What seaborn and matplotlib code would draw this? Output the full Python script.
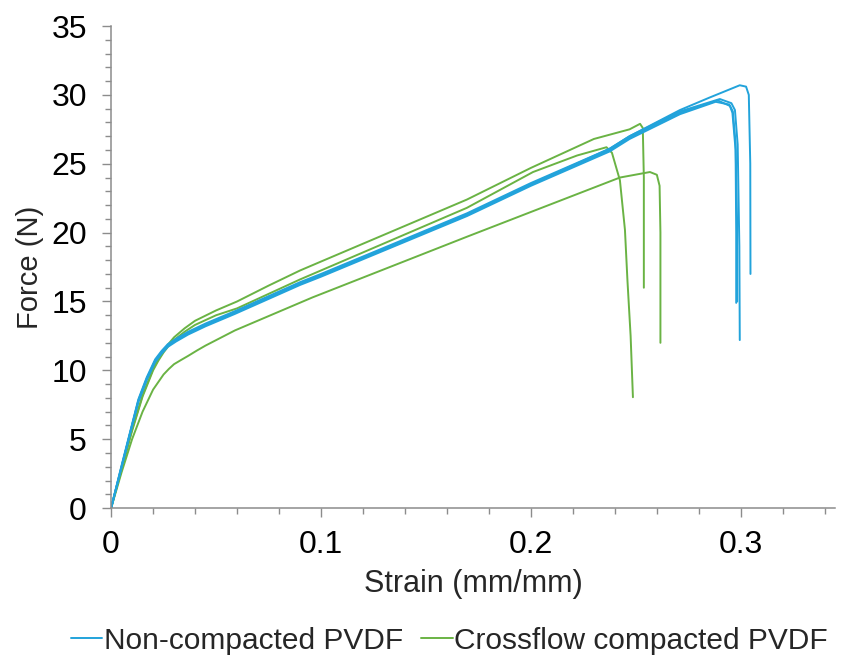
import numpy as np
import pandas as pd
import matplotlib
matplotlib.use("Agg")
import matplotlib.pyplot as plt
from matplotlib.lines import Line2D
from matplotlib.ticker import MultipleLocator, FuncFormatter
import seaborn as sns

# strain (mm/mm) / force (N)
b1_strain = [0, 0.005, 0.010, 0.013, 0.017, 0.021, 0.024, 0.027, 0.031, 0.0367, 0.045, 0.059, 0.090,
             0.100, 0.1695, 0.200, 0.2376, 0.247, 0.271, 0.289, 0.2948, 0.296, 0.2975, 0.2978, 0.2978]
b1_force = [0, 3.0, 6.0, 7.8, 9.4, 10.7, 11.3, 11.8, 12.2, 12.7, 13.3, 14.2, 16.3,
            16.9, 21.3, 23.5, 26.0, 26.9, 28.7, 29.6, 29.2, 28.7, 26.0, 20.0, 14.9]
b2_strain = [0, 0.005, 0.010, 0.013, 0.017, 0.021, 0.024, 0.027, 0.031, 0.0367, 0.045, 0.059, 0.090,
             0.100, 0.1695, 0.200, 0.2376, 0.247, 0.271, 0.288, 0.2945, 0.2962, 0.2975, 0.2982, 0.2983]
b2_force = [0, 3.0, 6.0, 7.7, 9.3, 10.6, 11.2, 11.7, 12.1, 12.6, 13.2, 14.1, 16.2,
            16.8, 21.2, 23.4, 25.9, 26.8, 28.6, 29.5, 29.3, 28.8, 26.5, 21.0, 15.0]
b3_strain = [0, 0.005, 0.010, 0.013, 0.017, 0.021, 0.024, 0.027, 0.031, 0.0367, 0.045, 0.059, 0.090,
             0.100, 0.1695, 0.200, 0.2376, 0.247, 0.271, 0.290, 0.2955, 0.2972, 0.2985, 0.2993, 0.2995]
b3_force = [0, 3.1, 6.1, 7.9, 9.5, 10.8, 11.4, 11.9, 12.3, 12.8, 13.4, 14.3, 16.4,
            17.0, 21.4, 23.6, 26.1, 27.0, 28.8, 29.7, 29.4, 28.9, 26.4, 19.0, 12.2]
b4_strain = [0, 0.005, 0.010, 0.013, 0.017, 0.021, 0.024, 0.027, 0.031, 0.0367, 0.045, 0.059, 0.090,
             0.100, 0.1695, 0.200, 0.2376, 0.247, 0.271, 0.285, 0.2995, 0.3025, 0.3038, 0.3045, 0.3046]
b4_force = [0, 3.0, 6.0, 7.8, 9.4, 10.7, 11.3, 11.8, 12.2, 12.7, 13.3, 14.2, 16.3,
            16.9, 21.3, 23.5, 26.1, 27.0, 28.9, 29.8, 30.7, 30.6, 30.0, 25.0, 17.0]

g1_strain = [0, 0.005, 0.010, 0.015, 0.020, 0.0225, 0.025, 0.0275, 0.030, 0.035, 0.040, 0.050, 0.060,
             0.075, 0.090, 0.100, 0.1695, 0.200, 0.230, 0.247, 0.252, 0.2533, 0.2538, 0.2538]
g1_force = [0, 2.9, 5.7, 8.2, 10.1, 10.8, 11.4, 11.95, 12.4, 13.05, 13.6, 14.35, 15.0,
            16.15, 17.25, 17.9, 22.4, 24.7, 26.8, 27.5, 27.9, 27.6, 24.0, 16.0]
g2_strain = [0, 0.005, 0.010, 0.015, 0.020, 0.0225, 0.025, 0.0275, 0.030, 0.035, 0.040, 0.050, 0.060,
             0.090, 0.1695, 0.201, 0.222, 0.236, 0.2386, 0.2424, 0.2448, 0.246, 0.2475, 0.2486]
g2_force = [0, 2.8, 5.6, 8.1, 10.0, 10.7, 11.3, 11.8, 12.2, 12.8, 13.3, 14.0, 14.5,
            16.6, 21.8, 24.4, 25.6, 26.2, 25.8, 23.8, 20.2, 16.5, 12.5, 8.05]
g3_strain = [0, 0.005, 0.010, 0.015, 0.020, 0.025, 0.0275, 0.030, 0.0333, 0.0367, 0.041, 0.045, 0.052,
             0.059, 0.096, 0.1695, 0.200, 0.2424, 0.2567, 0.2600, 0.2613, 0.2617, 0.2617]
g3_force = [0, 2.6, 5.0, 7.0, 8.6, 9.7, 10.1, 10.45, 10.75, 11.05, 11.45, 11.8, 12.35,
            12.9, 15.3, 19.7, 21.5, 24.0, 24.4, 24.2, 23.4, 20.0, 12.0]

groups = ["Non-compacted PVDF", "Crossflow compacted PVDF"]
colors = {"Non-compacted PVDF": "#22A3DB", "Crossflow compacted PVDF": "#6AB344"}

curves = [
    ("B1", groups[0], b1_strain, b1_force),
    ("B2", groups[0], b2_strain, b2_force),
    ("B3", groups[0], b3_strain, b3_force),
    ("B4", groups[0], b4_strain, b4_force),
    ("G1", groups[1], g1_strain, g1_force),
    ("G2", groups[1], g2_strain, g2_force),
    ("G3", groups[1], g3_strain, g3_force),
]
rows = []
for name, grp, xs, ys in curves:
    for x, y in zip(xs, ys):
        rows.append({"specimen": name, "group": grp, "strain": x, "force": y})
df = pd.DataFrame(rows)

sns.set_style("ticks")
plt.rcParams["font.family"] = ["Liberation Sans", "DejaVu Sans"]

fig = plt.figure(figsize=(8.48, 6.59), dpi=100)
ax = fig.add_axes([0.131, 0.229, 0.854, 0.7315])

# green first so the blue curves sit on top
for grp in [groups[1], groups[0]]:
    sns.lineplot(data=df[df["group"] == grp], x="strain", y="force", units="specimen",
                 estimator=None, sort=False, color=colors[grp], linewidth=1.4,
                 legend=False, ax=ax)

ax.set_xlim(0, 0.345)
ax.set_ylim(0, 35)
ax.xaxis.set_major_locator(MultipleLocator(0.1))
ax.xaxis.set_minor_locator(MultipleLocator(0.02))
ax.yaxis.set_major_locator(MultipleLocator(5))
ax.yaxis.set_minor_locator(MultipleLocator(1))
ax.xaxis.set_major_formatter(FuncFormatter(lambda v, p: "0" if abs(v) < 1e-9 else f"{v:.1f}"))

for side in ["top", "right"]:
    ax.spines[side].set_visible(False)
for side in ["left", "bottom"]:
    ax.spines[side].set_color("#8c8c8c")
    ax.spines[side].set_linewidth(1.1)

ax.tick_params(axis="both", which="major", length=6.5, width=1.0, color="#8c8c8c",
               labelsize=23, labelcolor="black")
ax.tick_params(axis="both", which="minor", length=4.5, width=1.0, color="#8c8c8c")
ax.tick_params(axis="y", which="major", pad=11)
ax.tick_params(axis="x", which="major", pad=9)

ax.set_xlabel("Strain (mm/mm)", fontsize=22, labelpad=7)
ax.set_ylabel("Force (N)", fontsize=21, labelpad=5)

handles = [Line2D([0], [0], color=colors[g], linewidth=1.4) for g in groups]
fig.legend(handles, groups, loc="lower center", bbox_to_anchor=(0.53, -0.034), ncol=2,
           frameon=False, fontsize=21.5, handlelength=1.05, handletextpad=0.05,
           columnspacing=0.6)

fig.savefig("out.png", dpi=100)
